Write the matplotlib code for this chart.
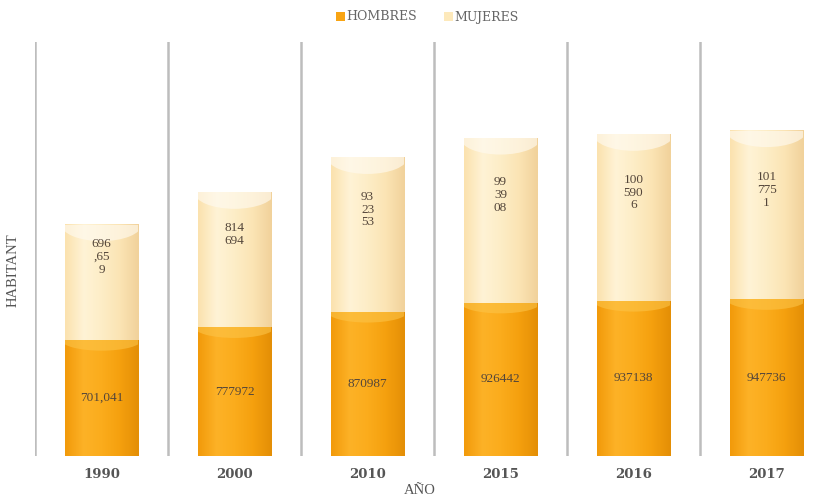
import numpy as np
import matplotlib
matplotlib.use('Agg')
import matplotlib.pyplot as plt
from matplotlib.colors import LinearSegmentedColormap
from matplotlib.patches import Patch, Ellipse

# population by sex per census year
years = ['1990', '2000', '2010', '2015', '2016', '2017']
hombres = [701041, 777972, 870987, 926442, 937138, 947736]
mujeres = [696659, 814694, 932353, 993908, 1005906, 1017751]
hombres_labels = ['701,041', '777972', '870987', '926442', '937138', '947736']
mujeres_labels = ['696\n,65\n9', '814\n694', '93\n23\n53', '99\n39\n08', '100\n590\n6', '101\n775\n1']

SERIF = ['Liberation Serif', 'DejaVu Serif']
WIDE_SERIF = ['DejaVu Serif']
ORANGE = '#f8a413'
CREAM = '#fde9bb'
TXT = '#54463a'

# horizontal shading so the bars read as cylinders
orange_cm = LinearSegmentedColormap.from_list(
    'o', ['#f29a0a', '#fdb227', '#fbac1c', '#f5a00e', '#e48f06'])
cream_cm = LinearSegmentedColormap.from_list(
    'c', ['#fbe2ae', '#fff3d6', '#fdedc6', '#fbe4b4', '#f1d29b'])


def shade(ax, bars, cmap, cap, cap_h, cap_alpha):
    grad = np.linspace(0, 1, 64).reshape(1, -1)
    for b in bars:
        x0, y0 = b.get_x(), b.get_y()
        bw, bh = b.get_width(), b.get_height()
        z = b.get_zorder()
        ax.imshow(grad, extent=[x0, x0 + bw, y0, y0 + bh],
                  aspect='auto', cmap=cmap, clip_path=b, zorder=z + 0.1,
                  interpolation='bilinear')
        # curved rim at the top of each segment
        e = Ellipse((x0 + bw / 2, y0 + bh), bw * 1.1, cap_h, facecolor=cap,
                    edgecolor='none', alpha=cap_alpha, zorder=z + 0.2)
        ax.add_patch(e)
        e.set_clip_path(b)


fig = plt.figure(figsize=(8.21, 5.01), dpi=100)
ax = fig.add_axes([35 / 821, 45 / 501, 798 / 821, 414 / 501])

x = np.arange(len(years))
w = 0.55
b1 = ax.bar(x, hombres, w, color=ORANGE, zorder=2, label='HOMBRES')
b2 = ax.bar(x, mujeres, w, bottom=hombres, color=CREAM, zorder=2, label='MUJERES')
shade(ax, b1, orange_cm, '#fcc448', 130000, 0.6)
shade(ax, b2, cream_cm, '#fffaf0', 200000, 0.65)

for i in range(len(years)):
    ax.text(x[i], hombres[i] / 2, hombres_labels[i], ha='center', va='center',
            fontsize=9.5, color=TXT, family=SERIF, zorder=5)
    ax.annotate(mujeres_labels[i], (x[i], hombres[i] + mujeres[i] / 2),
                xytext=(0, 18), textcoords='offset points', ha='center',
                va='center', fontsize=9.5, color=TXT, family=SERIF,
                linespacing=1.1, zorder=5)

# separators between the year columns
for s in np.arange(-0.5, len(years) - 0.5):
    ax.axvline(s, color='#bdbdbd', lw=1.8, zorder=1)

ax.set_xlim(-0.5, len(years) - 0.5)
ax.set_ylim(0, 2500000)
for sp in ax.spines.values():
    sp.set_visible(False)
ax.set_yticks([])
ax.set_xticks(x)
ax.set_xticklabels(years, family=WIDE_SERIF, fontsize=9.5, fontweight='bold', color='#555555')
ax.tick_params(axis='x', length=0, pad=9)

ax.set_ylabel('HABITANT', family=SERIF, fontsize=10.5, color='#555555')
ax.yaxis.set_label_coords(-0.019, 0.45)
fig.text(420 / 821, 1 - 491 / 501, 'AÑO', family=SERIF, fontsize=10.5,
         color='#555555', ha='center', va='center')

handles = [Patch(facecolor=ORANGE, edgecolor='none'), Patch(facecolor=CREAM, edgecolor='none')]
fig.legend(handles, ['HOMBRES', 'MUJERES'], loc='center', bbox_to_anchor=(427 / 821, 1 - 17 / 501),
           ncol=2, frameon=False, prop={'family': WIDE_SERIF, 'size': 9},
           handlelength=0.7, handleheight=0.7, handletextpad=0.1, columnspacing=2.2,
           labelcolor='#666666')

fig.savefig('out.png', dpi=100)
